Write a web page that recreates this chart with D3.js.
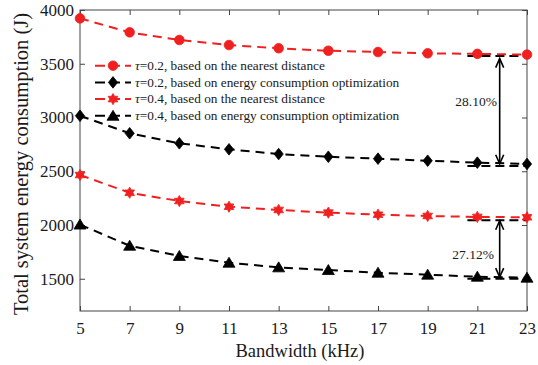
<!DOCTYPE html>
<html><head><meta charset="utf-8">
<script src="https://cdn.jsdelivr.net/npm/d3@7"></script>
<style>
body{margin:0;background:#fff;}
svg text{font-family:"Liberation Serif","Times New Roman",Times,"DejaVu Serif",serif !important;fill:#1a1a1a;}
</style></head>
<body><svg id="c" width="538" height="365" font-family="Liberation Serif, serif"></svg>
<script>
const bandwidth = [5,7,9,11,13,15,17,19,21,23];
const near02 = [3922,3792,3721,3674,3644,3621,3609,3597,3592,3585];
const opt02  = [3016,2853,2760,2704,2660,2635,2617,2598,2580,2568];
const near04 = [2465,2300,2223,2170,2140,2115,2096,2084,2075,2072];
const opt04  = [2004,1807,1712,1649,1606,1581,1556,1538,1519,1510];
const xTicks = [5,7,9,11,13,15,17,19,21,23];
const yTicks = [1500,2000,2500,3000,3500,4000];
const seriesNames = ["=0.2, based on the nearest distance","=0.2, based on energy consumption optimization","=0.4, based on the nearest distance","=0.4, based on energy consumption optimization"];
const refLevels = [3572,2550,2045,1500];
const refRange = [20.6,23];
const arrowX = 21.9;
const arrows = [[3548,2570],[2040,1515]];
const pctLabels = [{x:20.95,y:3153,t:"28.10%"},{x:20.83,y:1730,t:"27.12%"}];

const RED="#f02020", BLK="#000";
const FONT='"Liberation Serif","Times New Roman",serif';
const svg = d3.select("#c");
const L=80,R=527,T=10,B=311;
const x = d3.scaleLinear().domain([5,23]).range([L,R]);
const y = d3.scaleLinear().domain([1200,4000]).range([B,T]);

function mk(type, cx, cy){
  const p=d3.path();
  if(type==="circle"){p.arc(cx,cy,4.8,0,2*Math.PI);}
  else if(type==="diamond"){p.moveTo(cx,cy-5.8);p.lineTo(cx+4.6,cy);p.lineTo(cx,cy+5.8);p.lineTo(cx-4.6,cy);p.closePath();}
  else if(type==="triangle"){p.moveTo(cx,cy-5.5);p.lineTo(cx+6,cy+4.5);p.lineTo(cx-6,cy+4.5);p.closePath();}
  else if(type==="hex"){
    const ro=5.6, ri=3.2;
    for(let i=0;i<12;i++){const a=-Math.PI/2+i*Math.PI/6;const r=i%2?ri:ro;
      const px=cx+r*Math.cos(a), py=cy+r*Math.sin(a); i?p.lineTo(px,py):p.moveTo(px,py);}
    p.closePath();
  }
  return p.toString();
}
const series = [
  {v:near02,c:RED,m:"circle"},
  {v:opt02,c:BLK,m:"diamond"},
  {v:near04,c:RED,m:"hex"},
  {v:opt04,c:BLK,m:"triangle"}
];

svg.append("rect").attr("x",L).attr("y",T).attr("width",R-L).attr("height",B-T)
  .attr("fill","none").attr("stroke","#444").attr("stroke-width",1);

function styleAxis(g){g.attr("font-family",FONT).attr("font-size",17);
  g.select(".domain").remove();g.selectAll("line").attr("stroke","#444");
  g.selectAll("text").attr("fill","#1a1a1a");}
svg.append("g").attr("transform",`translate(0,${B})`)
  .call(d3.axisBottom(x).tickValues(xTicks).tickSizeInner(-5).tickSizeOuter(0).tickPadding(11).tickFormat(d3.format("d"))).call(styleAxis);
svg.append("g").attr("transform",`translate(0,${T})`)
  .call(d3.axisTop(x).tickValues(xTicks).tickSizeInner(-5).tickSizeOuter(0).tickFormat("")).call(styleAxis);
svg.append("g").attr("transform",`translate(${L},0)`)
  .call(d3.axisLeft(y).tickValues(yTicks).tickSizeInner(-5).tickSizeOuter(0).tickPadding(6).tickFormat(d3.format("d"))).call(styleAxis);
svg.append("g").attr("transform",`translate(${R},0)`)
  .call(d3.axisRight(y).tickValues(yTicks).tickSizeInner(-5).tickSizeOuter(0).tickFormat("")).call(styleAxis);

svg.append("text").attr("x",300).attr("y",357).attr("text-anchor","middle").attr("font-size",18.5).text("Bandwidth (kHz)");
svg.append("text").attr("transform",`translate(28,164) rotate(-90)`).attr("text-anchor","middle").attr("font-size",20.5).text("Total system energy consumption (J)");

refLevels.forEach(v=>{
  svg.append("line").attr("x1",x(refRange[0])).attr("x2",x(refRange[1])).attr("y1",y(v)).attr("y2",y(v))
    .attr("stroke",BLK).attr("stroke-width",2).attr("stroke-dasharray","9,5");
});

const line = d3.line().x((d,i)=>x(bandwidth[i])).y(d=>y(d));
series.forEach(s=>{
  svg.append("path").attr("d",line(s.v)).attr("fill","none").attr("stroke",s.c).attr("stroke-width",2).attr("stroke-dasharray","9,6");
  svg.append("g").selectAll("path").data(s.v).join("path")
    .attr("d",(d,i)=>mk(s.m,x(bandwidth[i]),y(d))).attr("fill",s.c).attr("stroke",s.c).attr("stroke-width",0.8);
});

arrows.forEach(a=>{
  const ax=x(arrowX), y1=y(a[0]), y2=y(a[1]);
  svg.append("line").attr("x1",ax).attr("x2",ax).attr("y1",y1).attr("y2",y2).attr("stroke",BLK).attr("stroke-width",1.6);
  svg.append("path").attr("d",`M${ax-4},${y1+9}L${ax},${y1}L${ax+4},${y1+9}`).attr("fill","none").attr("stroke",BLK).attr("stroke-width",1.6);
  svg.append("path").attr("d",`M${ax-4},${y2-9}L${ax},${y2}L${ax+4},${y2-9}`).attr("fill","none").attr("stroke",BLK).attr("stroke-width",1.6);
});
pctLabels.forEach(p=>{
  svg.append("text").attr("x",x(p.x)).attr("y",y(p.y)).attr("dy","0.35em").attr("text-anchor","middle")
    .attr("font-size",13.5).attr("fill","#333").text(p.t);
});

const lg = svg.append("g");
series.forEach((s,i)=>{
  const ly = 65.7 + i*16.7;
  lg.append("line").attr("x1",95).attr("x2",131).attr("y1",ly).attr("y2",ly).attr("stroke",s.c).attr("stroke-width",2).attr("stroke-dasharray","10,5");
  lg.append("path").attr("d",mk(s.m,113,ly)).attr("fill",s.c).attr("stroke",s.c).attr("stroke-width",0.8);
  const t = lg.append("text").attr("x",135).attr("y",ly).attr("dy","0.33em").attr("font-size",13.3).attr("fill","#333");
  t.append("tspan").attr("font-style","italic").text("τ");
  t.append("tspan").text(seriesNames[i]);
});
</script></body></html>
